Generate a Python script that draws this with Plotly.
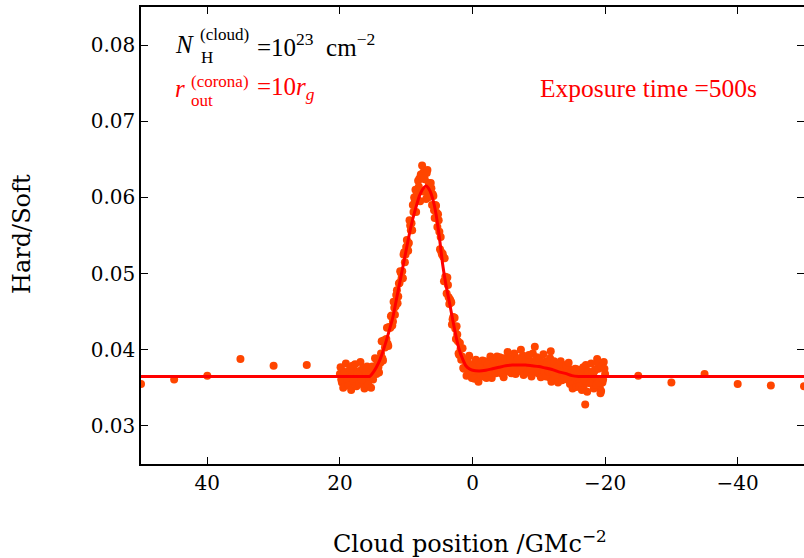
import plotly.graph_objects as go

# ---------------- data ----------------
# sparse monitoring points (outside the eclipse window)
sparse_x = [50, 45, 40, 35, 30, 25, -25, -30, -35, -40, -45, -50]
sparse_y = [0.0355, 0.0361, 0.0366, 0.0388, 0.0379, 0.0380,
            0.0366, 0.0357, 0.0368, 0.0355, 0.0353, 0.0352]

# dense sampling between +20 and -20 (even tenths)
dense_x = [
    20.0, 19.8, 19.6, 19.4, 19.2, 19.0, 18.8, 18.6, 18.4, 18.2,
    18.0, 17.8, 17.6, 17.4, 17.2, 17.0, 16.8, 16.6, 16.4, 16.2,
    16.0, 15.8, 15.6, 15.4, 15.2, 15.0, 14.8, 14.6, 14.4, 14.2,
    14.0, 13.8, 13.6, 13.4, 13.2, 13.0, 12.8, 12.6, 12.4, 12.2,
    12.0, 11.8, 11.6, 11.4, 11.2, 11.0, 10.8, 10.6, 10.4, 10.2,
    10.0, 9.8, 9.6, 9.4, 9.2, 9.0, 8.8, 8.6, 8.4, 8.2,
    8.0, 7.8, 7.6, 7.4, 7.2, 7.0, 6.8, 6.6, 6.4, 6.2,
    6.0, 5.8, 5.6, 5.4, 5.2, 5.0, 4.8, 4.6, 4.4, 4.2,
    4.0, 3.8, 3.6, 3.4, 3.2, 3.0, 2.8, 2.6, 2.4, 2.2,
    2.0, 1.8, 1.6, 1.4, 1.2, 1.0, 0.8, 0.6, 0.4, 0.2,
    0.0, -0.2, -0.4, -0.6, -0.8, -1.0, -1.2, -1.4, -1.6, -1.8,
    -2.0, -2.2, -2.4, -2.6, -2.8, -3.0, -3.2, -3.4, -3.6, -3.8,
    -4.0, -4.2, -4.4, -4.6, -4.8, -5.0, -5.2, -5.4, -5.6, -5.8,
    -6.0, -6.2, -6.4, -6.6, -6.8, -7.0, -7.2, -7.4, -7.6, -7.8,
    -8.0, -8.2, -8.4, -8.6, -8.8, -9.0, -9.2, -9.4, -9.6, -9.8,
    -10.0, -10.2, -10.4, -10.6, -10.8, -11.0, -11.2, -11.4, -11.6, -11.8,
    -12.0, -12.2, -12.4, -12.6, -12.8, -13.0, -13.2, -13.4, -13.6, -13.8,
    -14.0, -14.2, -14.4, -14.6, -14.8, -15.0, -15.2, -15.4, -15.6, -15.8,
    -16.0, -16.2, -16.4, -16.6, -16.8, -17.0, -17.2, -17.4, -17.6, -17.8,
    -18.0, -18.2, -18.4, -18.6, -18.8, -19.0, -19.2, -19.4, -19.6, -19.8,
    -20.0]
dense_y = [
    0.0368, 0.0361, 0.0372, 0.0356, 0.0366, 0.0370, 0.0363, 0.0358, 0.0374, 0.0365,
    0.0360, 0.0369, 0.0354, 0.0371, 0.0367, 0.0362, 0.0373, 0.0359, 0.0366, 0.0357,
    0.0370, 0.0375, 0.0361, 0.0365, 0.0374, 0.0361, 0.0376, 0.0374, 0.0386, 0.0377,
    0.0386, 0.0395, 0.0389, 0.0412, 0.0403, 0.0414, 0.0408, 0.0430, 0.0429, 0.0445,
    0.0437, 0.0455, 0.0457, 0.0478, 0.0470, 0.0488, 0.0501, 0.0503, 0.0525, 0.0515,
    0.0535, 0.0537, 0.0540, 0.0563, 0.0566, 0.0590, 0.0600, 0.0610, 0.0605, 0.0622,
    0.0625, 0.0630, 0.0642, 0.0633, 0.0624, 0.0598, 0.0636, 0.0619, 0.0603, 0.0612,
    0.0604, 0.0583, 0.0590, 0.0580, 0.0578, 0.0555, 0.0548, 0.0525, 0.0522, 0.0520,
    0.0490, 0.0495, 0.0469, 0.0466, 0.0462, 0.0440, 0.0442, 0.0428, 0.0431, 0.0411,
    0.0393, 0.0401, 0.0391, 0.0376, 0.0387, 0.0378, 0.0385, 0.0371, 0.0377, 0.0371,
    0.0380, 0.0367, 0.0376, 0.0382, 0.0364, 0.0372, 0.0368, 0.0378, 0.0370, 0.0382,
    0.0368, 0.0374, 0.0365, 0.0378, 0.0382, 0.0372, 0.0375, 0.0384, 0.0370, 0.0379,
    0.0382, 0.0374, 0.0389, 0.0372, 0.0382, 0.0371, 0.0379, 0.0386, 0.0378, 0.0370,
    0.0389, 0.0375, 0.0382, 0.0379, 0.0387, 0.0373, 0.0384, 0.0377, 0.0392, 0.0374,
    0.0381, 0.0388, 0.0371, 0.0383, 0.0376, 0.0385, 0.0377, 0.0404, 0.0374, 0.0378,
    0.0370, 0.0383, 0.0376, 0.0384, 0.0373, 0.0370, 0.0385, 0.0377, 0.0364, 0.0398,
    0.0372, 0.0379, 0.0366, 0.0373, 0.0380, 0.0367, 0.0374, 0.0361, 0.0375, 0.0368,
    0.0379, 0.0362, 0.0370, 0.0364, 0.0374, 0.0358, 0.0366, 0.0370, 0.0360, 0.0374,
    0.0363, 0.0358, 0.0371, 0.0366, 0.0353, 0.0328, 0.0373, 0.0361, 0.0364, 0.0370,
    0.0356, 0.0367, 0.0372, 0.0362, 0.0388, 0.0375, 0.0350, 0.0346, 0.0357, 0.0384,
    0.0368]

# dense sampling between +20 and -20 (odd tenths)
dense2_x = [
    19.9, 19.7, 19.5, 19.3, 19.1, 18.9, 18.7, 18.5, 18.3, 18.1,
    17.9, 17.7, 17.5, 17.3, 17.1, 16.9, 16.7, 16.5, 16.3, 16.1,
    15.9, 15.7, 15.5, 15.3, 15.1, 14.9, 14.7, 14.5, 14.3, 14.1,
    13.9, 13.7, 13.5, 13.3, 13.1, 12.9, 12.7, 12.5, 12.3, 12.1,
    11.9, 11.7, 11.5, 11.3, 11.1, 10.9, 10.7, 10.5, 10.3, 10.1,
    9.9, 9.7, 9.5, 9.3, 9.1, 8.9, 8.7, 8.5, 8.3, 8.1,
    7.9, 7.7, 7.5, 7.3, 7.1, 6.9, 6.7, 6.5, 6.3, 6.1,
    5.9, 5.7, 5.5, 5.3, 5.1, 4.9, 4.7, 4.5, 4.3, 4.1,
    3.9, 3.7, 3.5, 3.3, 3.1, 2.9, 2.7, 2.5, 2.3, 2.1,
    1.9, 1.7, 1.5, 1.3, 1.1, 0.9, 0.7, 0.5, 0.3, 0.1,
    -0.1, -0.3, -0.5, -0.7, -0.9, -1.1, -1.3, -1.5, -1.7, -1.9,
    -2.1, -2.3, -2.5, -2.7, -2.9, -3.1, -3.3, -3.5, -3.7, -3.9,
    -4.1, -4.3, -4.5, -4.7, -4.9, -5.1, -5.3, -5.5, -5.7, -5.9,
    -6.1, -6.3, -6.5, -6.7, -6.9, -7.1, -7.3, -7.5, -7.7, -7.9,
    -8.1, -8.3, -8.5, -8.7, -8.9, -9.1, -9.3, -9.5, -9.7, -9.9,
    -10.1, -10.3, -10.5, -10.7, -10.9, -11.1, -11.3, -11.5, -11.7, -11.9,
    -12.1, -12.3, -12.5, -12.7, -12.9, -13.1, -13.3, -13.5, -13.7, -13.9,
    -14.1, -14.3, -14.5, -14.7, -14.9, -15.1, -15.3, -15.5, -15.7, -15.9,
    -16.1, -16.3, -16.5, -16.7, -16.9, -17.1, -17.3, -17.5, -17.7, -17.9,
    -18.1, -18.3, -18.5, -18.7, -18.9, -19.1, -19.3, -19.5, -19.7, -19.9]
dense2_y = [
    0.0377, 0.0357, 0.0350, 0.0370, 0.0382, 0.0362, 0.0353, 0.0374, 0.0347, 0.0379,
    0.0359, 0.0381, 0.0352, 0.0368, 0.0355, 0.0384, 0.0361, 0.0376, 0.0349, 0.0372,
    0.0378, 0.0354, 0.0369, 0.0350, 0.0378, 0.0369, 0.0389, 0.0368, 0.0386, 0.0370,
    0.0383, 0.0411, 0.0386, 0.0412, 0.0406, 0.0429, 0.0405, 0.0429, 0.0444, 0.0432,
    0.0463, 0.0446, 0.0472, 0.0461, 0.0487, 0.0503, 0.0494, 0.0494, 0.0528, 0.0525,
    0.0544, 0.0530, 0.0570, 0.0557, 0.0557, 0.0581, 0.0595, 0.0581, 0.0597, 0.0614,
    0.0595, 0.0628, 0.0608, 0.0625, 0.0607, 0.0632, 0.0600, 0.0615, 0.0619, 0.0590,
    0.0602, 0.0573, 0.0589, 0.0561, 0.0570, 0.0532, 0.0528, 0.0526, 0.0490, 0.0496,
    0.0474, 0.0485, 0.0460, 0.0464, 0.0433, 0.0443, 0.0442, 0.0414, 0.0420, 0.0395,
    0.0409, 0.0387, 0.0402, 0.0375, 0.0386, 0.0366, 0.0385, 0.0392, 0.0371, 0.0363,
    0.0379, 0.0362, 0.0387, 0.0374, 0.0358, 0.0381, 0.0367, 0.0386, 0.0365, 0.0385,
    0.0363, 0.0381, 0.0370, 0.0391, 0.0363, 0.0378, 0.0387, 0.0369, 0.0391, 0.0375,
    0.0390, 0.0369, 0.0383, 0.0364, 0.0389, 0.0376, 0.0397, 0.0374, 0.0388, 0.0369,
    0.0376, 0.0395, 0.0368, 0.0386, 0.0389, 0.0372, 0.0400, 0.0378, 0.0367, 0.0391,
    0.0387, 0.0370, 0.0393, 0.0375, 0.0365, 0.0395, 0.0372, 0.0383, 0.0390, 0.0369,
    0.0388, 0.0364, 0.0380, 0.0394, 0.0370, 0.0365, 0.0383, 0.0371, 0.0389, 0.0358,
    0.0371, 0.0385, 0.0365, 0.0377, 0.0357, 0.0380, 0.0385, 0.0360, 0.0372, 0.0363,
    0.0380, 0.0361, 0.0383, 0.0355, 0.0370, 0.0349, 0.0373, 0.0375, 0.0351, 0.0368,
    0.0352, 0.0373, 0.0347, 0.0377, 0.0360, 0.0380, 0.0345, 0.0371, 0.0356, 0.0382,
    0.0370, 0.0349, 0.0374, 0.0354, 0.0383, 0.0357, 0.0343, 0.0378, 0.0361, 0.0375]

# model curve
curve_x = [50, 17, 16, 15.5, 15, 14.5, 14, 13.5, 13, 12.5, 12, 11.5, 11, 10.5, 10,
           9.5, 9, 8.5, 8, 7.5, 7, 6.5, 6, 5.5, 5, 4.5, 4, 3.5, 3, 2.5, 2, 1.5, 1,
           0.5, 0, -1, -2, -3, -4, -5, -6, -7, -8, -9, -10, -11, -12, -13, -14,
           -15, -16, -17, -50]
curve_y = [0.0365, 0.0365, 0.0365, 0.0365, 0.0370, 0.0377, 0.0386, 0.0398, 0.0412,
           0.0427, 0.0443, 0.0465, 0.0487, 0.0509, 0.0531, 0.0553, 0.0572, 0.0588,
           0.0602, 0.0611, 0.0615, 0.0610, 0.0598, 0.0578, 0.0548, 0.0512, 0.0485,
           0.0463, 0.0440, 0.0418, 0.0400, 0.0388, 0.0379, 0.0375, 0.0373, 0.0372,
           0.0373, 0.0375, 0.0377, 0.0379, 0.0380, 0.0380, 0.0380, 0.0379, 0.0378,
           0.0376, 0.0374, 0.0371, 0.0369, 0.0366, 0.0365, 0.0365, 0.0365]

x_ticks = [40, 20, 0, -20, -40]
x_ticktext = ["40", "20", "0", "\u221220", "\u221240"]
y_ticks = [0.03, 0.04, 0.05, 0.06, 0.07, 0.08]
y_ticktext = ["0.03", "0.04", "0.05", "0.06", "0.07", "0.08"]

# ---------------- layout constants ----------------
W, H = 804, 558
L, R, T, B = 141, 0, 7, 94
PW, PH = W - L - R, H - T - B
YR = [0.025, 0.085]
XR = [50, -50]

def px(xp):
    return (xp - L) / PW

def py(yp):
    return (H - B - yp) / PH

TICKFONT = dict(family="DejaVu Serif", size=20, color="black")
TXT = "Liberation Serif"

fig = go.Figure()
fig.add_trace(go.Scatter(x=dense_x + dense2_x + sparse_x,
                         y=dense_y + dense2_y + sparse_y, mode="markers",
                         marker=dict(color="#FF4500", size=8, line=dict(width=0)),
                         showlegend=False, hoverinfo="skip"))
fig.add_trace(go.Scatter(x=curve_x, y=curve_y, mode="lines", yaxis="y2",
                         line=dict(color="#FF0000", width=3, shape="spline", smoothing=0.6),
                         showlegend=False, hoverinfo="skip"))

axis_common = dict(showgrid=False, zeroline=False, ticks="inside", ticklen=7,
                   tickwidth=1, tickcolor="black", tickfont=TICKFONT)

fig.update_layout(
    width=W, height=H,
    margin=dict(l=L, r=R, t=T, b=B, pad=0),
    paper_bgcolor="white", plot_bgcolor="white",
    xaxis=dict(range=XR, tickvals=x_ticks, ticktext=x_ticktext, showline=True,
               linecolor="black", linewidth=1.6, mirror="ticks", **axis_common),
    yaxis=dict(range=YR, tickvals=y_ticks, ticktext=y_ticktext, showline=True,
               linecolor="black", linewidth=1.6, mirror=False, **axis_common),
    yaxis2=dict(range=YR, tickvals=y_ticks, overlaying="y", side="right",
                showline=False, showticklabels=False, **axis_common),
)

def ann(text, x, y, size, color="black", family=TXT, angle=0, xanchor="left"):
    fig.add_annotation(text=text, x=x, y=y, xref="paper", yref="paper",
                       xanchor=xanchor, yanchor="middle", showarrow=False,
                       textangle=angle, font=dict(family=family, size=size, color=color))

# line 1: N_H^(cloud) = 10^23 cm^-2
ann("<i>N</i>", px(173), py(45), 25)
ann("(cloud)", px(198), py(35), 17)
ann("H", px(199), py(57), 17)
ann("=10<sup>23</sup>  cm<sup>\u22122</sup>", px(255), py(45), 25)
# line 2: r_out^(corona) = 10 r_g
ann("<i>r</i>", px(173), py(89), 25, "#FF0000")
ann("(corona)", px(189), py(81), 17, "#FF0000")
ann("out", px(189), py(100), 17, "#FF0000")
ann("=10<i>r</i><sub><i>g</i></sub>", px(255), py(89), 25, "#FF0000")
# exposure time
ann("Exposure time =500s", px(538), py(89), 25.5, "#FF0000")

# axis titles
ann("Cloud position /GMc<sup>\u22122</sup>", px(470), py(542), 24,
    family="DejaVu Serif", xanchor="center")
ann("Hard/Soft", px(22), py(234), 24, family="DejaVu Serif", angle=-90,
    xanchor="center")

fig.write_html("out.html")
